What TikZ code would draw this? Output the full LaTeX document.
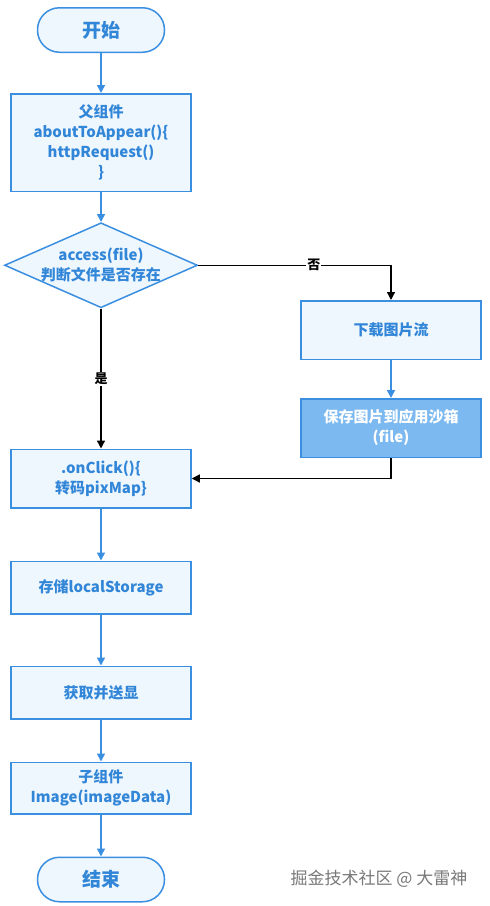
\documentclass[tikz,border=0pt]{standalone}
\usepackage{fontspec}
\setmainfont{Noto Sans CJK SC}
\usetikzlibrary{arrows.meta,positioning,shapes.geometric}
\definecolor{flowblue}{RGB}{58,143,225}
\definecolor{flowfill}{RGB}{239,247,254}
\definecolor{flowtext}{RGB}{50,134,216}
\definecolor{flowdark}{RGB}{124,185,240}
\definecolor{markgray}{RGB}{120,120,120}

\begin{document}
\begin{tikzpicture}[x=1pt, y=-1pt,
  font=\fontsize{15}{20}\selectfont\bfseries, node distance=40pt,
  b/.style={draw=flowblue, line width=1.5pt, fill=flowfill, text=flowtext, align=center, minimum width=180pt, inner sep=2pt},
  term/.style={b, rounded corners=22pt, minimum width=127pt, minimum height=44.5pt, font=\fontsize{19}{22}\selectfont\bfseries},
  dec/.style={diamond, draw=flowblue, line width=1.5pt, fill=flowfill, minimum width=193pt, minimum height=85pt, inner sep=0pt},
  lbl/.style={text=flowtext, align=center, inner sep=0pt},
  yn/.style={fill=white, inner sep=1pt, font=\fontsize{13}{15}\selectfont\bfseries},
  pf/.style={draw=flowblue, line width=1.5pt, -{Triangle[length=8pt,width=8pt]}},
  nf/.style={draw=black, line width=1.4pt, -{Triangle[length=8pt,width=8pt]}}
]
\useasboundingbox (0,0) rectangle (490,906);
% main column
\node[term] (start) at (101,30) {开始};
\node[b, minimum height=97.5pt, below=40pt of start] (parent) {父组件\\aboutToAppear()\{\\httpRequest()\\\}};
\node[dec, below=30pt of parent] (acc) {};
\node[lbl] (acct) at (acc) {access(file)\\判断文件是否存在};
\node[b, minimum height=58.5pt, below=140pt of acc] (click) {.onClick()\{\\转码pixMap\}};
\node[b, minimum height=52.5pt, below=52pt of click] (store) {存储localStorage};
\node[b, minimum height=52.5pt, below=51pt of store] (fetch) {获取并送显};
\node[b, minimum height=51.5pt, below=42pt of fetch] (child) {子组件\\Image(imageData)};
\node[term, below=42pt of child] (end) {结束};
% download branch
\node[b, minimum height=58.5pt] (dl) at (391,330) {下载图片流};
\node[b, fill=flowdark, text=white, minimum height=58.5pt, below=38pt of dl] (save) {保存图片到应用沙箱\\(file)};
\node[text=markgray, font=\fontsize{17}{20}\selectfont\mdseries] (mark) at (379,879) {掘金技术社区 @ 大雷神};
% connectors
\draw[pf] (start)--(parent); \draw[pf] (parent)--(acc);
\draw[nf] (acc.east) -| node[yn, pos=0.3] (no) {否} (dl.north);
\draw[nf] (acc.south) -- node[yn, pos=0.5] (yes) {是} (click.north);
\draw[pf] (dl)--(save);
\draw[nf] (save.south) |- (click.east);
\draw[pf] (click)--(store); \draw[pf] (store)--(fetch);
\draw[pf] (fetch)--(child); \draw[pf] (child)--(end);
\end{tikzpicture}
\end{document}
